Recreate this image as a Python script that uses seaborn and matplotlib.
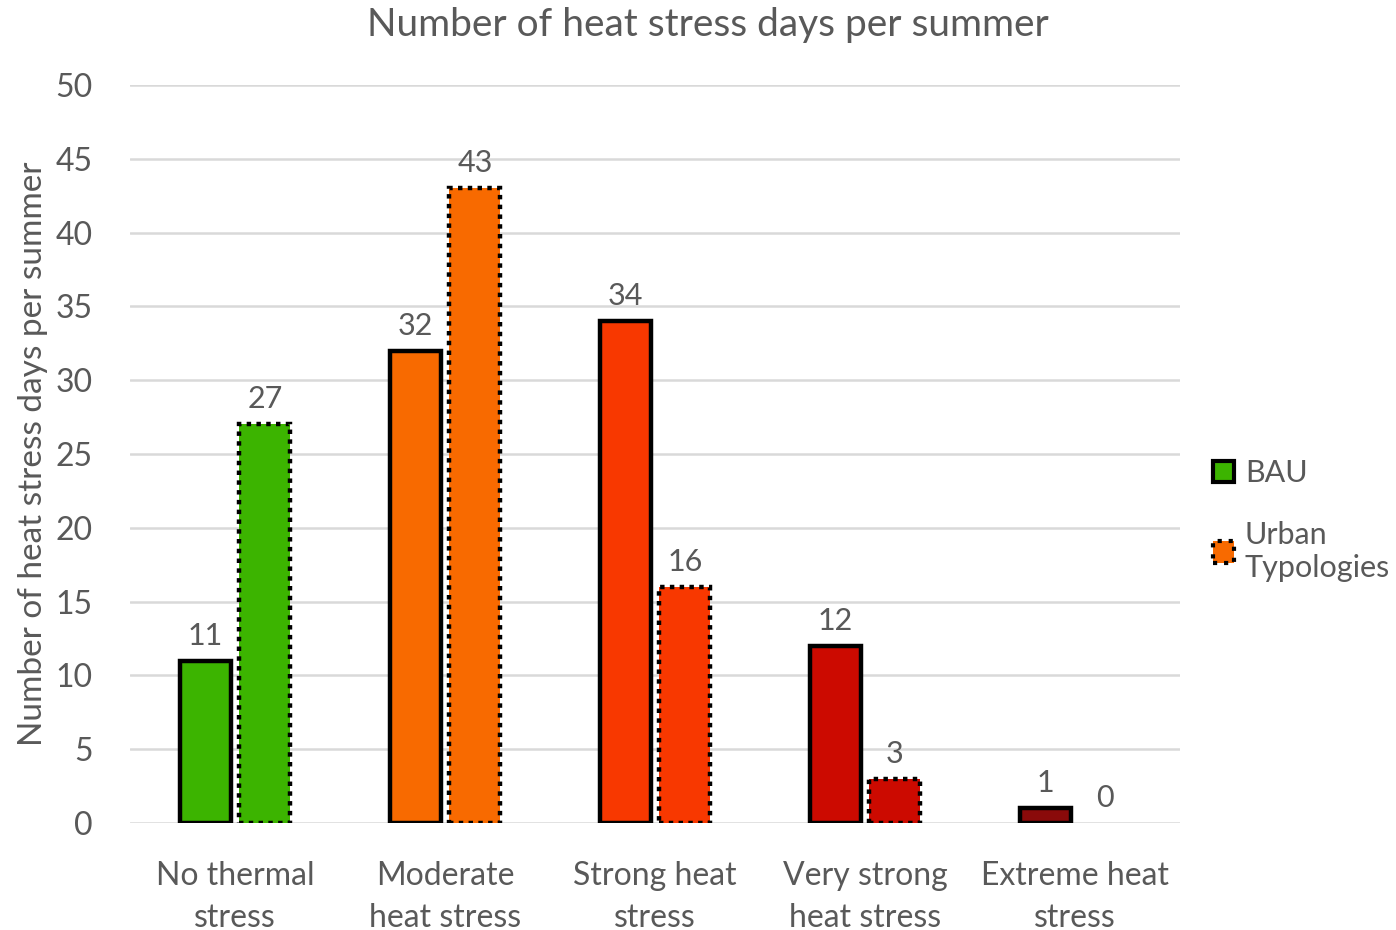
import pandas as pd
import matplotlib.pyplot as plt
import seaborn as sns
from matplotlib.patches import Patch

categories = ['No thermal\nstress', 'Moderate\nheat stress', 'Strong heat\nstress',
              'Very strong\nheat stress', 'Extreme heat\nstress']
series = ['BAU', 'Urban Typologies']
bau_days = [11, 32, 34, 12, 1]
urban_days = [27, 43, 16, 3, 0]
cat_colors = ['#3CB400', '#F86A00', '#F83800', '#CC0A00', '#8A0A0A']
y_ticks = [0, 5, 10, 15, 20, 25, 30, 35, 40, 45, 50]

df = pd.DataFrame({
    'category': categories * 2,
    'series': [series[0]] * len(categories) + [series[1]] * len(categories),
    'days': bau_days + urban_days,
})

sns.set_theme(style="white")
plt.rcParams['font.family'] = ['Lato', 'DejaVu Sans']
gray = '#595959'

fig = plt.figure(figsize=(13.96, 9.30), dpi=100)
ax = fig.add_axes([130 / 1396, 107 / 930, 1050 / 1396, 738 / 930])

sns.barplot(data=df, x='category', y='days', hue='series', order=categories,
            hue_order=series, width=0.57, gap=0.15, ax=ax, legend=False,
            errorbar=None, zorder=3)

# recolour bars per category, dotted edge for the second series
for j, container in enumerate(ax.containers):
    for i, bar in enumerate(container):
        bar.set_facecolor(cat_colors[i])
        bar.set_edgecolor('black' if bar.get_height() > 0 else 'none')
        bar.set_linewidth(3.2)
        if j == 1:
            bar.set_linestyle((0, (1, 1.2)))
    ax.bar_label(container, padding=8, fontsize=22, color=gray)

ax.set_ylim(0, 50)
ax.set_yticks(y_ticks)
ax.set_xlim(-0.5, 4.5)
ax.yaxis.grid(True, color='#D9D9D9', linewidth=1.8, zorder=0)
ax.set_axisbelow(True)
for s in ax.spines.values():
    s.set_visible(False)
ax.tick_params(axis='y', length=0, pad=27, labelsize=23, labelcolor=gray)
ax.tick_params(axis='x', length=0, pad=27, labelsize=23, labelcolor=gray)
for lbl in ax.get_xticklabels():
    lbl.set_linespacing(1.5)
ax.set_xlabel('')
ax.set_ylabel('Number of heat stress days per summer', fontsize=24, color=gray)
ax.yaxis.set_label_coords(-0.078, 0.5)
fig.text(0.507, 0.973, 'Number of heat stress days per summer', fontsize=28,
         color=gray, ha='center', va='center')

handles = [
    Patch(facecolor=cat_colors[0], edgecolor='black', linewidth=3),
    Patch(facecolor=cat_colors[1], edgecolor='black', linewidth=3, linestyle=':'),
]
leg = ax.legend(handles, ['BAU', 'Urban\nTypologies'], loc='center left',
                bbox_to_anchor=(1.005, 0.41), frameon=False, fontsize=22,
                handlelength=0.7, handleheight=0.7, handletextpad=0.35,
                labelspacing=1.1, labelcolor=gray)

fig.savefig('out.png', dpi=100)
